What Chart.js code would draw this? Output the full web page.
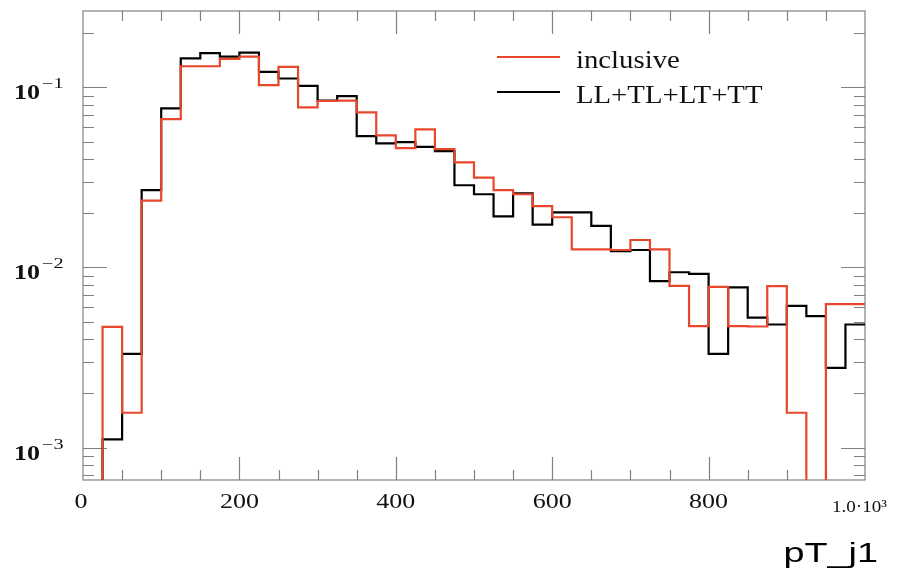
<!DOCTYPE html>
<html>
<head>
<meta charset="utf-8">
<title>pT_j1</title>
<script src="https://cdn.jsdelivr.net/npm/chart.js@4.4.0/dist/chart.umd.min.js"></script>
<style>
  html, body { margin: 0; padding: 0; background: #fff; }
  #wrap { width: 900px; height: 574px; position: relative; }
</style>
</head>
<body>
<div id="wrap"><canvas id="chart"></canvas></div>
<script>
// lower bin edges (GeV), bin width 25
const binEdges = [0, 25, 50, 75, 100, 125, 150, 175, 200, 225,
  250, 275, 300, 325, 350, 375, 400, 425, 450, 475,
  500, 525, 550, 575, 600, 625, 650, 675, 700, 725,
  750, 775, 800, 825, 850, 875, 900, 925, 950, 975];
const xUpper = 1000;

// normalised bin contents, 0 = empty bin
const inclusive = [0, 0.00468, 0.00156, 0.0235, 0.0667, 0.131, 0.131, 0.144, 0.148, 0.103,
  0.130, 0.0774, 0.0840, 0.0843, 0.0726, 0.0541, 0.0460, 0.0584, 0.0454, 0.0383,
  0.0315, 0.0269, 0.0255, 0.0219, 0.0190, 0.0126, 0.0126, 0.0125, 0.0142, 0.0126,
  0.0079, 0.00472, 0.0078, 0.00472, 0.0047, 0.00787, 0.00156, 0, 0.00625, 0.00625];
const polarised = [0, 0.00111, 0.00331, 0.0269, 0.0764, 0.145, 0.155, 0.148, 0.156, 0.122,
  0.112, 0.102, 0.0845, 0.0893, 0.0536, 0.0489, 0.0497, 0.0467, 0.0442, 0.0286,
  0.0255, 0.0192, 0.0258, 0.0173, 0.0202, 0.0202, 0.0170, 0.0123, 0.0125, 0.0084,
  0.0094, 0.0092, 0.00331, 0.00774, 0.00527, 0.00482, 0.00612, 0.00537, 0.00277, 0.00482];

const seriesLabels = ['inclusive', 'LL+TL+LT+TT'];
const seriesColors = ['#e8472c', '#000000'];

const xMajorTicks = [0, 200, 400, 600, 800];
const xMajorLabels = ['0', '200', '400', '600', '800'];
const xEndLabel = '1.0\u00b710\u00b3';
const yMajorTicks = [1e-3, 1e-2, 1e-1];
const yExponents = ['\u22123', '\u22122', '\u22121'];
const xTitle = 'pT_j1';

const yMin = 6.6e-4;
const yMax = 0.2655;
const FLOOR = 1e-7; // empty bins drop out of the frame

function toSteps(values) {
  const pts = binEdges.map((e, i) => ({ x: e, y: values[i] > 0 ? values[i] : FLOOR }));
  const last = values[values.length - 1];
  pts.push({ x: xUpper, y: last > 0 ? last : FLOOR });
  return pts;
}

function scaledText(ctx, text, x, y, sx, align) {
  ctx.save();
  ctx.translate(x, y);
  ctx.scale(sx, 1);
  ctx.textAlign = align || 'left';
  ctx.fillText(text, 0, 0);
  ctx.restore();
}

// frame with inward ticks on all four sides
const framePlugin = {
  id: 'frame',
  beforeDatasetsDraw(chart) {
    const { ctx, chartArea: a, scales } = chart;
    const xs = scales.x, ys = scales.y;
    ctx.save();
    ctx.strokeStyle = '#808080';
    ctx.lineWidth = 1.2;
    ctx.strokeRect(a.left, a.top, a.right - a.left, a.bottom - a.top);

    ctx.beginPath();
    for (let v = 50; v < xUpper; v += 50) {
      const px = Math.round(xs.getPixelForValue(v)) + 0.5;
      const len = v % 200 === 0 ? 23 : 10;
      ctx.moveTo(px, a.bottom); ctx.lineTo(px, a.bottom - len);
      ctx.moveTo(px, a.top); ctx.lineTo(px, a.top + len);
    }
    for (let k = -4; k <= 0; k++) {
      for (let m = 1; m <= 9; m++) {
        const v = m * Math.pow(10, k);
        if (v < yMin || v > yMax) continue;
        const py = Math.round(ys.getPixelForValue(v)) + 0.5;
        const len = m === 1 ? 24 : 11;
        ctx.moveTo(a.left, py); ctx.lineTo(a.left + len, py);
        ctx.moveTo(a.right, py); ctx.lineTo(a.right - len, py);
      }
    }
    ctx.stroke();
    ctx.restore();
  },
  afterDraw(chart) {
    const { ctx, scales } = chart;
    const xs = scales.x, ys = scales.y;
    ctx.save();
    ctx.fillStyle = '#111';
    ctx.textBaseline = 'alphabetic';

    // y labels 10^k
    yMajorTicks.forEach((v, i) => {
      const py = ys.getPixelForValue(v);
      ctx.font = 'bold 20px "Liberation Serif", "DejaVu Serif", serif';
      scaledText(ctx, '10', 14, py + 12, 1.3);
      ctx.font = '14px "Liberation Serif", "DejaVu Serif", serif';
      scaledText(ctx, yExponents[i], 42, py + 1, 1.45);
    });

    // x labels
    ctx.font = '20px "Liberation Serif", "DejaVu Serif", serif';
    xMajorTicks.forEach((v, i) => {
      scaledText(ctx, xMajorLabels[i], xs.getPixelForValue(v) - (i === 0 ? 2 : 0), 508, 1.3, 'center');
    });
    ctx.font = '17px "Liberation Serif", "DejaVu Serif", serif';
    scaledText(ctx, xEndLabel, xs.getPixelForValue(xUpper) - 33, 512, 1.12);

    // axis title
    ctx.fillStyle = '#000';
    ctx.font = '27px "Liberation Sans", Arial, sans-serif';
    scaledText(ctx, xTitle, 878, 562, 1.4, 'right');

    // legend inside the frame
    ctx.font = '25px "Liberation Serif", "DejaVu Serif", serif';
    const rows = [57, 92];
    chart.data.datasets.forEach((ds, i) => {
      ctx.strokeStyle = ds.borderColor;
      ctx.lineWidth = 2;
      ctx.beginPath();
      ctx.moveTo(497, rows[i]); ctx.lineTo(560, rows[i]);
      ctx.stroke();
      ctx.fillStyle = '#111';
      scaledText(ctx, ds.label, 576, rows[i] + 11, 1.15);
    });
    ctx.restore();
  }
};

new Chart(document.getElementById('chart'), {
  type: 'line',
  data: {
    datasets: [
      { label: seriesLabels[0], data: toSteps(inclusive), borderColor: seriesColors[0] },
      { label: seriesLabels[1], data: toSteps(polarised), borderColor: seriesColors[1] }
    ].map(d => ({ ...d, stepped: 'before', borderWidth: 2.2, pointRadius: 0, fill: false, tension: 0 }))
  },
  options: {
    responsive: true,
    maintainAspectRatio: false,
    animation: false,
    layout: { padding: { left: 83, top: 11, right: 35, bottom: 94 } },
    scales: {
      x: { type: 'linear', min: 0, max: xUpper, display: false },
      y: { type: 'logarithmic', min: yMin, max: yMax, display: false }
    },
    plugins: { legend: { display: false }, tooltip: { enabled: false } }
  },
  plugins: [framePlugin]
});
</script>
</body>
</html>
